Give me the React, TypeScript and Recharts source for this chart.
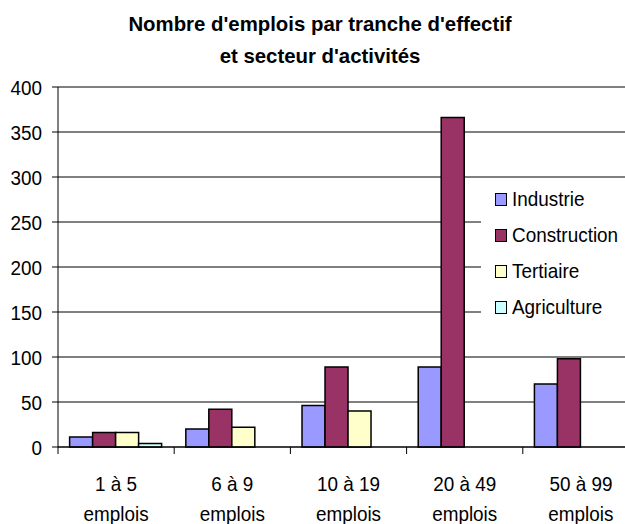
import { BarChart, Bar, XAxis, YAxis, CartesianGrid, Legend } from 'recharts';

const categories = ['1 à 5', '6 à 9', '10 à 19', '20 à 49', '50 à 99'];
const unitLabel = 'emplois';
const industrie = [11, 20, 46, 89, 70];
const construction = [16, 42, 89, 366, 98];
const tertiaire = [16, 22, 40, null, null];
const agriculture = [4, null, null, null, null];
const yTicks = [0, 50, 100, 150, 200, 250, 300, 350, 400];

const SERIES = [
  { key: 'Industrie', values: industrie, color: '#9999FF' },
  { key: 'Construction', values: construction, color: '#993366' },
  { key: 'Tertiaire', values: tertiaire, color: '#FFFFCC' },
  { key: 'Agriculture', values: agriculture, color: '#CCFFFF' },
];

const FONT = '"Liberation Sans", Arial, sans-serif';
const CHART_W = 660;
const CHART_H = 524;
const MARGIN = { top: 87, right: 21, bottom: 17, left: 8 };
const Y_AXIS_W = 50;
const BAND = (CHART_W - MARGIN.left - MARGIN.right - Y_AXIS_W) / categories.length;
// the original text is a bit narrow for its height
const SQUEEZE = 0.9;

const data = categories.map((c, i) => {
  const row: Record<string, any> = { name: c };
  SERIES.forEach((s) => {
    row[s.key] = s.values[i];
  });
  return row;
});

function NarrowText({ x, y, anchor, children }: any) {
  return (
    <text
      x={0}
      y={0}
      transform={`translate(${x},${y}) scale(${SQUEEZE},1)`}
      textAnchor={anchor}
      fontSize={21}
      fontFamily={FONT}
      fill="#000"
    >
      {children}
    </text>
  );
}

function CategoryTick(props: any) {
  const { x, y, payload, index } = props;
  const left = x - BAND / 2;
  return (
    <g>
      <line x1={left} x2={left} y1={y} y2={y + 7} stroke="#000" />
      {index === categories.length - 1 && (
        <line x1={left + BAND} x2={left + BAND} y1={y} y2={y + 7} stroke="#000" />
      )}
      <NarrowText x={x} y={y + 44} anchor="middle">{payload.value}</NarrowText>
      <NarrowText x={x} y={y + 74} anchor="middle">{unitLabel}</NarrowText>
    </g>
  );
}

function ValueTick(props: any) {
  const { x, y, payload } = props;
  return <NarrowText x={x} y={y + 7.5} anchor="end">{payload.value}</NarrowText>;
}

function LegendBox() {
  return (
    <div style={{ background: '#fff', width: 144, paddingTop: 1, paddingBottom: 20, fontFamily: FONT }}>
      {SERIES.map((s) => (
        <div key={s.key} style={{ display: 'flex', alignItems: 'center', height: 36, paddingLeft: 14 }}>
          <span
            style={{
              display: 'inline-block',
              flexShrink: 0,
              width: 10,
              height: 11,
              background: s.color,
              border: '1.5px solid #000',
              marginRight: 5,
            }}
          />
          <span
            style={{
              fontSize: 21,
              color: '#000',
              display: 'inline-block',
              flexShrink: 0,
              transform: `scaleX(${SQUEEZE})`,
              transformOrigin: 'left center',
              whiteSpace: 'nowrap',
            }}
          >
            {s.key}
          </span>
        </div>
      ))}
    </div>
  );
}

export default function App() {
  return (
    <div style={{ position: 'absolute', left: 0, top: 0, width: 625, height: 524, overflow: 'hidden', background: '#fff' }}>
      <div
        style={{
          position: 'absolute',
          left: 0,
          top: 8,
          width: 640,
          textAlign: 'center',
          fontFamily: FONT,
          fontWeight: 'bold',
          fontSize: 21,
          lineHeight: '32px',
          color: '#000',
          transform: 'scaleX(0.97)',
        }}
      >
        Nombre d'emplois par tranche d'effectif
        <br />
        et secteur d'activités
      </div>
      <BarChart
        width={CHART_W}
        height={CHART_H}
        data={data}
        margin={MARGIN}
        barCategoryGap="10%"
        barGap={0}
        style={{ position: 'absolute', left: 0, top: 0 }}
      >
        <CartesianGrid vertical={false} stroke="#000" />
        <XAxis
          dataKey="name"
          height={60}
          tickLine={false}
          tickSize={0}
          tickMargin={0}
          axisLine={{ stroke: '#000' }}
          interval={0}
          tick={<CategoryTick />}
        />
        <YAxis
          width={Y_AXIS_W}
          domain={[0, 400]}
          ticks={yTicks}
          interval={0}
          tickSize={6}
          tickMargin={10}
          axisLine={{ stroke: '#000' }}
          tickLine={{ stroke: '#000' }}
          tick={<ValueTick />}
        />
        <Legend
          layout="vertical"
          align="center"
          verticalAlign="middle"
          wrapperStyle={{ left: 481, top: 180, width: 144 }}
          content={<LegendBox />}
        />
        {SERIES.map((s) => (
          <Bar
            key={s.key}
            dataKey={s.key}
            fill={s.color}
            stroke="#000"
            strokeWidth={1.5}
            isAnimationActive={false}
          />
        ))}
      </BarChart>
    </div>
  );
}
